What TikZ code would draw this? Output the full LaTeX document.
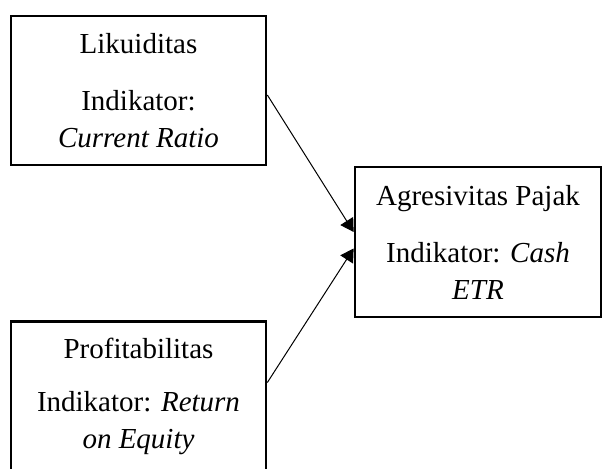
\documentclass[tikz,border=0pt]{standalone}
\usepackage{fontspec}
\setmainfont{Liberation Serif}
\usetikzlibrary{arrows.meta}
\tikzset{
  varbox/.style={draw, line width=2.7pt, rectangle, align=center, inner sep=0pt,
    font=\fontsize{29}{37}\selectfont},
  conn/.style={line width=1pt, -{Triangle[length=13pt,width=15pt]}}
}
\begin{document}
\begin{tikzpicture}[x=1pt,y=-1pt]
\useasboundingbox (0,0) rectangle (609,468);
\clip (0,0) rectangle (609,468);
\node[varbox, minimum width=255pt, minimum height=149pt] (liq) at (138.5,90.5)
  {Likuiditas\\[20pt]Indikator:\\\textit{Current Ratio}};
\node[varbox, minimum width=246pt, minimum height=150pt] (agr) at (478,242)
  {Agresivitas Pajak\\[20pt]Indikator: \textit{Cash}\\\textit{ETR}};
\node[varbox, minimum width=255pt, minimum height=149pt] (prof) at (138.5,396)
  {Profitabilitas\\[16pt]Indikator: \textit{Return}\\\textit{on Equity}};
\draw[conn] ([yshift=-4.5pt]liq.east) -- ([yshift=10pt]agr.west);
\draw[conn] ([yshift=13.5pt]prof.east) -- ([yshift=-6.5pt]agr.west);
\end{tikzpicture}
\end{document}
